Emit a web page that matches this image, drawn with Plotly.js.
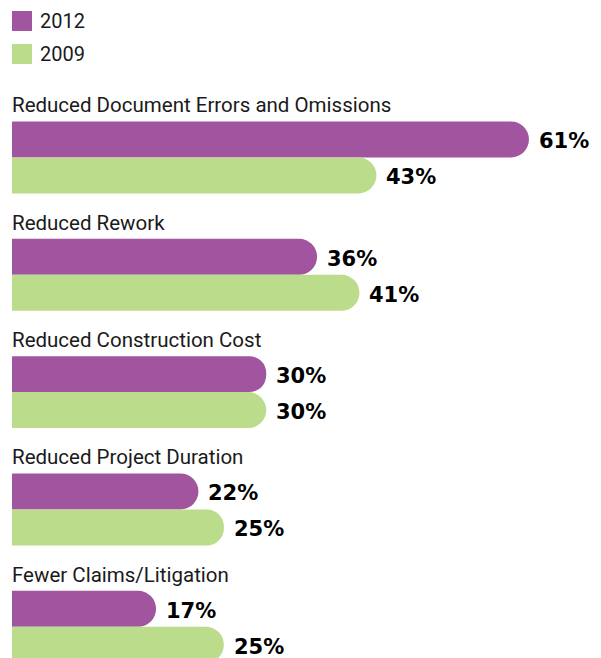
<!DOCTYPE html>
<html>
<head>
<meta charset="utf-8">
<script src="https://cdn.plot.ly/plotly-3.0.1.min.js"></script>
<style>html,body{margin:0;padding:0;background:#fff;}#chart{width:601px;height:658px;}</style>
</head>
<body>
<div id="chart"></div>
<script>
const categories = [
  "Reduced Document Errors and Omissions",
  "Reduced Rework",
  "Reduced Construction Cost",
  "Reduced Project Duration",
  "Fewer Claims/Litigation"
];
const series2012 = [61, 36, 30, 22, 17];
const series2009 = [43, 41, 30, 25, 25];
const seriesNames = ["2012", "2009"];
const seriesColors = ["#A1559F", "#BBDC8B"];

const BW = 0.3068;           // bar thickness in category units
const labelFont = "Roboto, Liberation Sans, sans-serif";
const valueFont = "DejaVu Sans, Liberation Sans, sans-serif";

const traces = [series2012, series2009].map((vals, k) => ({
  type: "bar",
  orientation: "h",
  name: seriesNames[k],
  x: vals,
  y: categories,
  width: BW,
  offset: k === 0 ? -BW : 0,
  marker: {color: seriesColors[k], cornerradius: 18, line: {width: 0}},
  hoverinfo: "skip",
  showlegend: false
}));

const annotations = [];
categories.forEach((c, i) => {
  annotations.push({
    x: 0, y: i - BW, xref: "x", yref: "y",
    text: c, showarrow: false, xanchor: "left", yanchor: "middle",
    xshift: -2, yshift: 16,
    font: {family: labelFont, size: 20.5, color: "#1a1a1a"}
  });
  [series2012, series2009].forEach((vals, k) => {
    annotations.push({
      x: vals[i], y: i + (k === 0 ? -BW / 2 : BW / 2), xref: "x", yref: "y",
      text: "<b>" + vals[i] + "%</b>", showarrow: false, xanchor: "left", yanchor: "middle",
      xshift: 8, yshift: -2,
      font: {family: valueFont, size: 21, color: "#000"}
    });
  });
});

// legend (drawn as shapes + text)
const shapes = [];
seriesNames.forEach((n, k) => {
  shapes.push({
    type: "rect", xref: "paper", yref: "paper",
    xsizemode: "pixel", ysizemode: "pixel",
    xanchor: 0, yanchor: 1,
    x0: 0, x1: 20, y0: -11 - 33 * k, y1: -31 - 33 * k,
    fillcolor: seriesColors[k], line: {width: 0}
  });
  annotations.push({
    x: 0, y: 1, xref: "paper", yref: "paper",
    text: n, showarrow: false, xanchor: "left", yanchor: "middle",
    xshift: 26, yshift: -21 - 33 * k,
    font: {family: labelFont, size: 20, color: "#1a1a1a"}
  });
});

const layout = {
  width: 601, height: 658,
  margin: {l: 12, r: 0, t: 0, b: 0},
  paper_bgcolor: "#fff", plot_bgcolor: "#fff",
  barmode: "overlay",
  showlegend: false,
  xaxis: {range: [0, 69.5], visible: false, fixedrange: true},
  yaxis: {type: "category", range: [4.266, -1.342], visible: false, fixedrange: true},
  annotations: annotations,
  shapes: shapes
};

Plotly.newPlot("chart", traces, layout, {staticPlot: true, displayModeBar: false});
</script>
</body>
</html>
